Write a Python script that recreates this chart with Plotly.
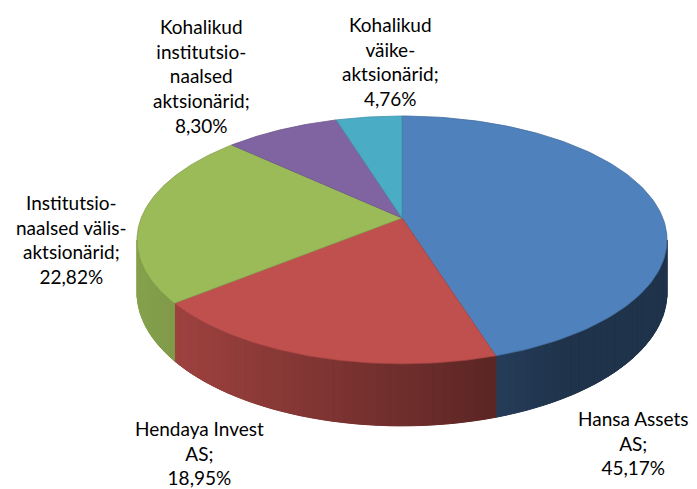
import numpy as np
import plotly.graph_objects as go

# ---- data ----
categories = [
    "Hansa Assets<br>AS;",
    "Hendaya Invest<br>AS;",
    "Institutsio-<br>naalsed välis-<br>aktsionärid;",
    "Kohalikud<br>institutsio-<br>naalsed<br>aktsionärid;",
    "Kohalikud<br>väike-<br>aktsionärid;",
]
shares = [45.17, 18.95, 22.82, 8.30, 4.76]

# ---- style ----
top_colors = ["#4F81BD", "#C0504D", "#9BBB59", "#8064A2", "#4BACC6"]
# label block centres in pixels (layout)
label_px = [(633, 443), (199, 453), (71, 239), (201, 76), (390, 61)]

W, H = 697, 489
CX, CY, SCALE = 402, 218, 265      # pie centre (pixels) and pixels per unit radius
K = 0.177                          # perspective strength
A = np.sqrt(1 - K * K)
B = 0.453                          # vertical squash
DEPTH = 0.1925                     # wall thickness


def proj(phi, drop=0.0):
    X, Y = np.sin(phi), np.cos(phi)
    w = 1 + K * Y
    return A * X / w, B * Y / w - drop / w


def shade(hex_color, f):
    r, g, b = (int(hex_color[i:i + 2], 16) for i in (1, 3, 5))
    return "rgb(%d,%d,%d)" % (r * f, g * f, b * f)


def wall_factor(mean_x):
    px = CX + SCALE * mean_x
    return min(0.86, max(0.40, 0.83 - 0.00109 * (px - 170)))


fig = go.Figure()

total = sum(shares)
bounds = np.concatenate([[0], np.cumsum(shares) / total * 2 * np.pi])

# ---- side walls (front half only) ----
phi_r = np.arccos(-K)
phi_l = 2 * np.pi - phi_r
for i, col in enumerate(top_colors):
    a0, a1 = max(bounds[i], phi_r), min(bounds[i + 1], phi_l)
    if a1 <= a0:
        continue
    # solid base wall
    full = np.linspace(a0, a1, 100)
    tx, ty = proj(full)
    bx, by = proj(full[::-1], DEPTH)
    base = shade(col, wall_factor(np.mean(tx)))
    fig.add_trace(go.Scatter(x=np.concatenate([tx, bx, tx[:1]]),
                             y=np.concatenate([ty, by, ty[:1]]),
                             fill="toself", fillcolor=base, mode="lines",
                             line=dict(color=base, width=0.5),
                             hoverinfo="skip", showlegend=False))
    # shaded strips
    n = max(2, int(np.degrees(a1 - a0) / 2.0) + 1)
    edges = np.linspace(a0, a1, n)
    for s in range(n - 1):
        seg = np.linspace(edges[s], edges[s + 1], 4)
        tx, ty = proj(seg)
        bx, by = proj(seg[::-1], DEPTH)
        c = shade(col, wall_factor(np.mean(tx)))
        fig.add_trace(go.Scatter(x=np.concatenate([tx, bx, tx[:1]]),
                                 y=np.concatenate([ty, by, ty[:1]]),
                                 fill="toself", fillcolor=c, mode="lines",
                                 line=dict(color=c, width=1.0),
                                 hoverinfo="skip", showlegend=False))

# ---- top faces ----
for i, col in enumerate(top_colors):
    arc = np.linspace(bounds[i], bounds[i + 1], 120)
    ax_, ay_ = proj(arc)
    xs = np.concatenate([[0], ax_, [0]])
    ys = np.concatenate([[0], ay_, [0]])
    fig.add_trace(go.Scatter(x=xs, y=ys, fill="toself", fillcolor=col,
                             mode="lines", line=dict(color=shade(col, 0.85), width=0.8),
                             hoverinfo="skip", showlegend=False))

# ---- labels ----
for cat, v, (lx, ly) in zip(categories, shares, label_px):
    txt = cat + "<br>" + ("%.2f" % v).replace(".", ",") + "%"
    fig.add_annotation(x=lx / W, y=1 - ly / H, xref="paper", yref="paper",
                       text=txt, showarrow=False, xanchor="center", yanchor="middle",
                       align="center", font=dict(family="Lato", size=19, color="#000000"))

fig.update_layout(
    width=W, height=H, margin=dict(l=0, r=0, t=0, b=0),
    paper_bgcolor="white", plot_bgcolor="white",
    xaxis=dict(range=[-CX / SCALE, (W - CX) / SCALE], visible=False, fixedrange=True),
    yaxis=dict(range=[-(H - CY) / SCALE, CY / SCALE], visible=False, fixedrange=True),
    showlegend=False,
)

fig.write_html("out.html", config={"displayModeBar": False},
               post_script="document.body.style.margin='0px';")
